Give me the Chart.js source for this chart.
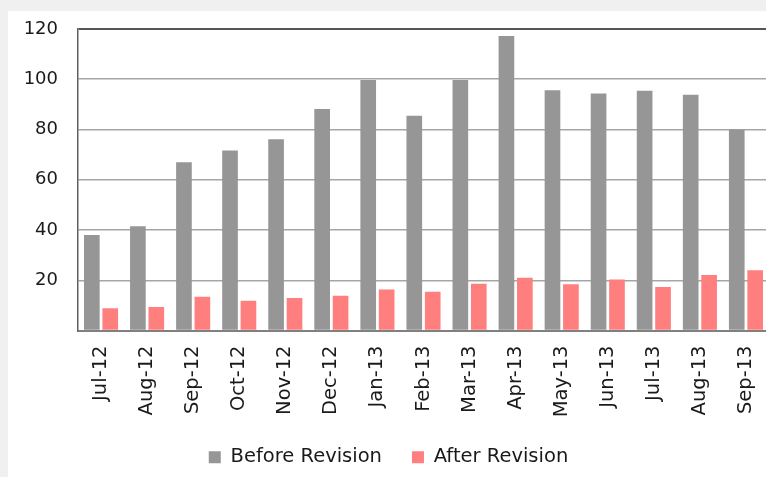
<!DOCTYPE html>
<html>
<head>
<meta charset="utf-8">
<script src="https://cdn.jsdelivr.net/npm/chart.js@4"></script>
<style>
  html, body { margin: 0; padding: 0; background: #f0f0f0; overflow: hidden; width: 766px; height: 477px; }
  #panel { position: absolute; left: 8px; top: 11px; width: 778px; height: 466px; background: #fff; }
</style>
</head>
<body>
<div id="panel"><canvas id="chart" width="778" height="466"></canvas></div>
<script>
// Données
const mois = ["Jul-12", "Aug-12", "Sep-12", "Oct-12", "Nov-12", "Dec-12", "Jan-13", "Feb-13",
  "Mar-13", "Apr-13", "May-13", "Jun-13", "Jul-13", "Aug-13", "Sep-13"];
const avantRevision = [38, 41.5, 67, 71.6, 76.1, 88.2, 99.7, 85.5, 99.7, 117.2, 95.6, 94.3, 95.4, 93.8, 80];
const apresRevision = [8.9, 9.4, 13.4, 11.8, 12.9, 13.8, 16.3, 15.4, 18.6, 21, 18.4, 20.3, 17.3, 22.1, 24];
const yTicks = [20, 40, 60, 80, 100, 120];

const police = "'DejaVu Sans', sans-serif";

const ctx = document.getElementById("chart").getContext("2d");
new Chart(ctx, {
  type: "bar",
  data: {
    labels: mois,
    datasets: [
      {
        label: "Before Revision",
        data: avantRevision,
        backgroundColor: "#969696",
        categoryPercentage: 0.8,
        barPercentage: 0.85,
      },
      {
        label: "After Revision",
        data: apresRevision,
        backgroundColor: "#ff7f7f",
        categoryPercentage: 0.8,
        barPercentage: 0.85,
      },
    ],
  },
  options: {
    responsive: false,
    animation: false,
    layout: { padding: { top: 18, right: 17, left: 0, bottom: 0 } },
    plugins: {
      tooltip: { enabled: false },
      legend: {
        position: "bottom",
        labels: {
          color: "#1a1a1a",
          font: { family: police, size: 19.5 },
          boxWidth: 12,
          boxHeight: 12,
          padding: 30,
        },
      },
    },
    scales: {
      x: {
        grid: { display: false, drawTicks: false },
        border: { color: "#808080", width: 2 },
        ticks: {
          color: "#1a1a1a",
          font: { family: police, size: 19.5 },
          minRotation: 90,
          maxRotation: 90,
          padding: 15,
        },
        afterFit: (scale) => { scale.height = 87; },
      },
      y: {
        min: 0,
        max: 120,
        afterBuildTicks: (scale) => {
          scale.ticks = [0].concat(yTicks).map((v) => ({ value: v }));
        },
        grid: {
          tickLength: 20,
          tickColor: "rgba(0,0,0,0)",
          color: (c) => (c.tick && c.tick.value === 120 ? "#555555" : "#a6a6a6"),
          lineWidth: (c) => (c.tick && c.tick.value === 120 ? 2 : 1.5),
        },
        border: { color: "#606060", width: 1.5 },
        ticks: {
          color: "#1a1a1a",
          font: { family: police, size: 18 },
          padding: 0,
          callback: (v) => (v === 0 ? "" : v),
        },
        afterFit: (scale) => { scale.width = 70; },
      },
    },
  },
});
</script>
</body>
</html>
